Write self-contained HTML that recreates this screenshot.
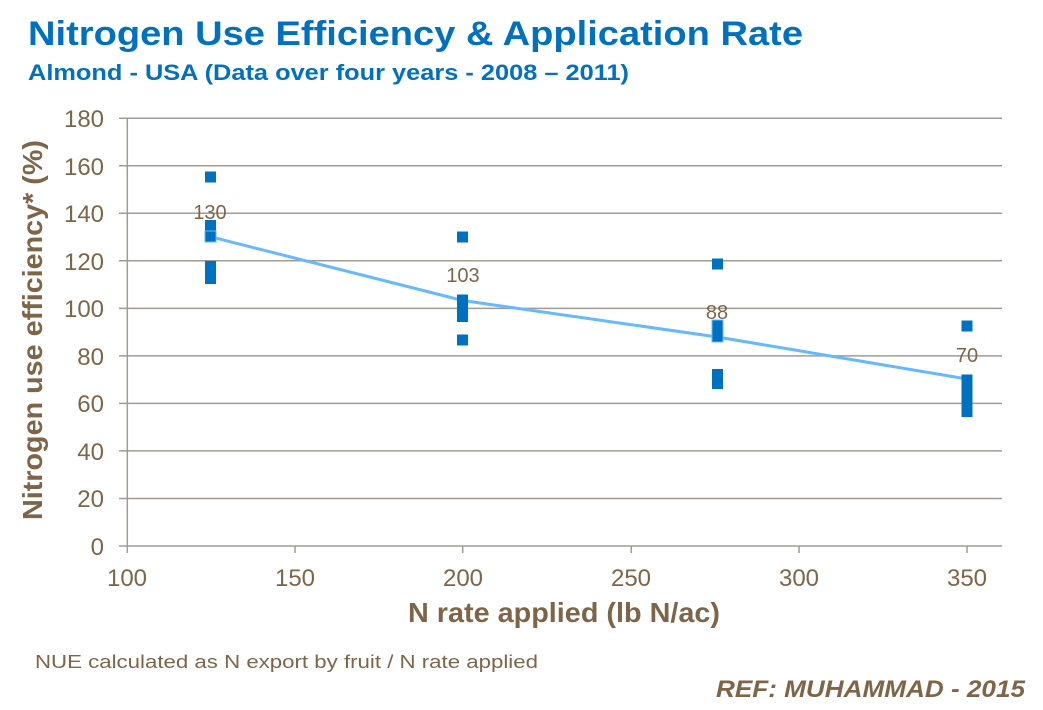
<!DOCTYPE html>
<html><head><meta charset="utf-8"><style>
body{margin:0;background:#fff;}
svg{display:block;font-family:"Liberation Sans",sans-serif;}
</style></head><body>
<svg width="1043" height="710" xmlns="http://www.w3.org/2000/svg">
<text x="28" y="45" font-size="34" font-weight="bold" fill="#0070c0" textLength="775" lengthAdjust="spacingAndGlyphs">Nitrogen Use Efficiency &amp; Application Rate</text>
<text x="28" y="80" font-size="22" font-weight="bold" fill="#0070c0" textLength="601" lengthAdjust="spacingAndGlyphs">Almond - USA (Data over four years - 2008 – 2011)</text>
<g stroke="#a39b93" stroke-width="1.5">
<line x1="119" x2="1002" y1="118.3" y2="118.3"/>
<line x1="119" x2="1002" y1="165.8" y2="165.8"/>
<line x1="119" x2="1002" y1="213.3" y2="213.3"/>
<line x1="119" x2="1002" y1="260.8" y2="260.8"/>
<line x1="119" x2="1002" y1="308.4" y2="308.4"/>
<line x1="119" x2="1002" y1="355.9" y2="355.9"/>
<line x1="119" x2="1002" y1="403.4" y2="403.4"/>
<line x1="119" x2="1002" y1="450.9" y2="450.9"/>
<line x1="119" x2="1002" y1="498.5" y2="498.5"/>
<line x1="119" x2="1002" y1="546" y2="546"/>
<line x1="127.3" x2="127.3" y1="118" y2="553"/>
<line x1="295" x2="295" y1="546" y2="553"/>
<line x1="462.7" x2="462.7" y1="546" y2="553"/>
<line x1="631.3" x2="631.3" y1="546" y2="553"/>
<line x1="799" x2="799" y1="546" y2="553"/>
<line x1="967" x2="967" y1="546" y2="553"/>
</g>
<g font-size="24" fill="#7f6547" text-anchor="end">
<text x="104" y="127" textLength="40" lengthAdjust="spacingAndGlyphs">180</text><text x="104" y="175" textLength="40" lengthAdjust="spacingAndGlyphs">160</text><text x="104" y="222" textLength="40" lengthAdjust="spacingAndGlyphs">140</text>
<text x="104" y="270" textLength="40" lengthAdjust="spacingAndGlyphs">120</text><text x="104" y="317" textLength="40" lengthAdjust="spacingAndGlyphs">100</text><text x="104" y="365">80</text>
<text x="104" y="412">60</text><text x="104" y="460">40</text><text x="104" y="507">20</text>
<text x="104" y="555">0</text>
</g>
<g font-size="24" fill="#7f6547" text-anchor="middle">
<text x="127" y="586">100</text><text x="295" y="586">150</text><text x="463" y="586">200</text>
<text x="631" y="586">250</text><text x="799" y="586">300</text><text x="967" y="586">350</text>
</g>
<text x="408" y="622" font-size="28" font-weight="bold" fill="#7f6547" textLength="312" lengthAdjust="spacingAndGlyphs">N rate applied (lb N/ac)</text>
<text transform="translate(42,520) rotate(-90)" font-size="28" font-weight="bold" fill="#7f6547" textLength="380" lengthAdjust="spacingAndGlyphs">Nitrogen use efficiency* (%)</text>
<polyline fill="none" stroke="#66b8ff" stroke-width="3" points="210.3,236.7 462.7,300.5 717.3,337 967,379"/>
<g fill="#0070c0">
<rect x="205" y="171.5" width="11" height="11"/>
<rect x="205" y="220" width="11" height="11"/>
<rect x="205" y="231" width="11" height="11" stroke="#66b8ff"/>
<rect x="205" y="261" width="11" height="23"/>
<rect x="457" y="231.5" width="11" height="11"/>
<rect x="457" y="294.5" width="11" height="27.5"/>
<rect x="457" y="334.5" width="11" height="11"/>
<rect x="712" y="258.5" width="11" height="11"/>
<rect x="712" y="320" width="11" height="22" stroke="#66b8ff"/>
<rect x="712" y="369" width="11" height="20"/>
<rect x="961.5" y="320.5" width="11" height="11"/>
<rect x="961.5" y="374.5" width="11" height="42.5"/>
</g>
<g font-size="20" fill="#7f6547" text-anchor="middle">
<text x="210" y="219">130</text><text x="463" y="282">103</text>
<text x="717" y="319">88</text><text x="967" y="362">70</text>
</g>
<text x="35" y="668" font-size="18" fill="#7f6547" textLength="503" lengthAdjust="spacingAndGlyphs">NUE calculated  as N export by fruit / N rate applied</text>
<text x="716" y="697" font-size="24" font-weight="bold" font-style="italic" fill="#7f6547" textLength="309" lengthAdjust="spacingAndGlyphs">REF:  MUHAMMAD - 2015</text>
</svg>
</body></html>
